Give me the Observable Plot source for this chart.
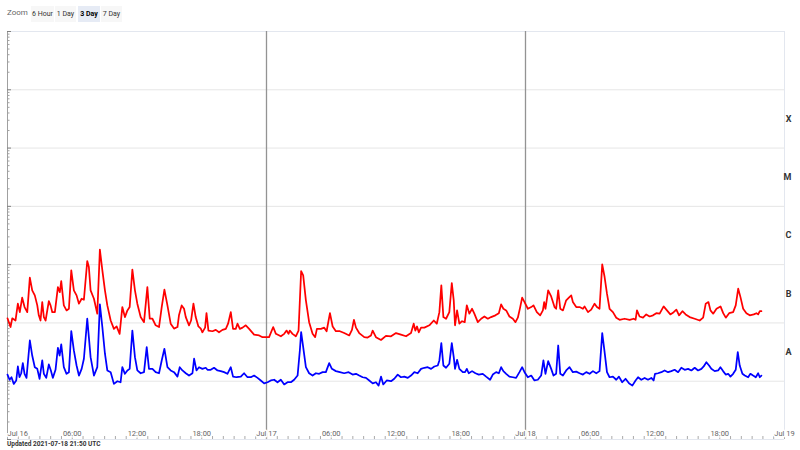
<!DOCTYPE html>
<html><head><meta charset="utf-8">
<script src="https://cdn.jsdelivr.net/npm/d3@7"></script>
<script src="https://cdn.jsdelivr.net/npm/@observablehq/plot@0.6"></script>
<style>
body{margin:0;background:#fff;font-family:Roboto,"Liberation Sans",Arial,sans-serif}
#wrap{position:relative;width:800px;height:450px;overflow:hidden}
#chart{position:absolute;left:0;top:0}
.zl{position:absolute;top:7px;left:7px;font-size:8px;line-height:12px;color:#666}
.btn{position:absolute;top:6px;height:16px;line-height:16px;font-size:7px;color:#333;background:#f7f7f7;text-align:center}
.btn.sel{background:#e6ebf5;font-weight:bold;color:#000}
#foot{position:absolute;left:7px;top:440px;font-size:6.5px;line-height:8px;font-weight:bold;color:#333}
</style></head>
<body>
<div id="wrap">
<div id="chart"></div>
<div class="zl">Zoom</div>
<div id="btns"></div>
<div id="foot"></div>
</div>
<script>
// Time in hours after 2021-07-16 00:00 UTC
const longHours = [
0.00,0.28,0.44,0.74,0.96,1.14,1.36,1.58,1.83,2.07,
2.29,2.53,2.76,2.90,3.06,3.22,3.37,3.53,3.83,3.99,
4.15,4.39,4.67,4.85,4.98,5.22,5.47,5.69,5.91,6.15,
6.40,6.62,6.87,7.08,7.39,7.54,7.70,8.01,8.32,8.56,
8.79,9.03,9.25,9.56,9.86,10.11,10.39,10.64,10.88,11.11,
11.32,11.57,11.81,12.03,12.34,12.65,12.96,13.18,13.43,13.73,
14.04,14.29,14.54,14.82,15.12,15.43,15.75,15.89,16.14,16.36,
16.52,16.82,17.01,17.23,17.44,17.69,17.91,18.06,18.31,18.44,
18.62,18.99,19.30,19.60,19.92,20.23,20.44,20.69,20.90,21.15,
21.31,21.53,21.78,22.08,22.39,22.85,23.32,23.63,23.94,24.24,
24.62,24.87,25.33,25.64,25.86,26.04,26.16,26.41,26.72,26.97,
27.21,27.40,27.65,27.95,28.27,28.51,28.67,29.04,29.35,29.57,
29.88,30.13,30.43,30.80,31.20,31.67,31.92,32.10,32.29,32.59,
33.06,33.37,33.68,33.84,34.14,34.61,35.07,35.54,36.00,36.46,
36.93,37.39,37.64,37.79,37.95,38.11,38.32,38.63,39.09,39.50,
39.78,40.02,40.20,40.39,40.64,40.94,41.17,41.35,41.47,41.66,
41.87,42.12,42.37,42.56,42.80,43.05,43.26,43.58,43.89,44.19,
44.51,44.81,45.21,45.53,45.74,45.95,46.21,46.51,46.83,47.07,
47.29,47.51,47.69,47.91,48.22,48.53,48.74,49.05,49.36,49.61,
49.73,49.85,50.10,50.38,50.69,50.84,51.03,51.22,51.47,51.77,
52.02,52.24,52.39,52.70,53.01,53.32,53.47,53.79,54.09,54.40,
54.62,54.86,55.11,55.33,55.55,55.79,56.10,56.41,56.72,57.18,
57.65,58.02,58.20,58.33,58.57,58.89,59.19,59.50,59.82,60.12,
60.43,60.80,61.05,61.42,61.73,61.98,62.23,62.54,62.84,63.21,
63.68,64.14,64.46,64.70,64.95,65.14,65.39,65.70,66.07,66.32,
66.56,66.87,67.24,67.48,67.71,67.92,68.17,68.47,68.78,69.15,
69.40,69.56,69.71,69.86
];
// Long channel (0.1-0.8 nm) flux, in units of 1e-7 W/m²
const longFlux = [
1.20,0.85,1.20,1.10,2.14,1.53,2.71,1.87,1.53,5.98,
3.62,2.97,2.00,1.35,1.10,2.28,1.26,1.10,2.37,2.00,
1.53,1.53,4.12,3.38,5.22,2.00,1.64,1.75,7.98,3.62,
2.97,2.14,2.60,2.50,11.5,9.11,3.62,2.60,1.44,18.1,
7.98,3.62,2.00,1.10,0.79,0.87,0.65,1.87,1.26,1.64,
1.87,8.20,3.62,2.14,1.26,1.03,4.12,1.18,1.18,0.91,
0.85,1.87,3.72,2.00,0.97,0.80,0.85,1.35,2.00,1.75,
1.26,0.91,1.10,2.14,1.26,0.87,0.80,0.69,0.83,1.47,
0.74,0.72,0.76,0.69,0.76,0.79,0.97,1.53,0.79,0.79,
0.97,0.79,0.83,0.91,0.79,0.63,0.61,0.57,0.57,0.57,
0.85,0.65,0.59,0.65,0.74,0.65,0.74,0.65,0.59,0.74,
7.76,6.56,2.44,1.03,0.65,0.57,0.79,0.79,0.83,0.72,
1.47,0.87,0.72,0.72,0.67,0.61,0.76,1.13,0.83,0.67,
0.57,0.56,0.61,0.74,0.57,0.51,0.60,0.59,0.67,0.63,
0.59,0.67,0.97,0.74,0.87,0.69,0.83,0.83,0.91,1.10,
0.97,1.53,4.41,1.26,1.18,1.53,4.83,2.44,0.91,1.64,
0.97,1.07,1.03,2.00,1.44,1.75,1.44,1.03,1.18,1.29,
1.18,1.26,1.35,1.47,2.08,1.75,1.64,1.29,1.18,1.03,
1.23,1.87,2.71,2.28,1.75,1.87,2.00,1.53,1.35,1.64,
2.28,1.75,3.62,2.85,1.87,1.75,3.62,1.75,1.64,2.44,
2.71,2.97,2.28,1.87,1.87,1.75,1.92,1.53,1.69,2.14,
1.87,1.75,10.1,6.13,3.18,1.75,1.53,1.23,1.13,1.18,
1.13,1.18,1.13,1.64,1.29,1.23,1.40,1.29,1.35,1.47,
1.44,1.92,1.69,1.40,1.53,1.69,1.35,1.59,1.40,1.26,
1.18,1.10,1.23,2.14,2.28,1.64,1.44,1.75,1.92,1.47,
1.23,1.47,1.53,2.00,3.87,2.77,1.75,1.47,1.35,1.40,
1.47,1.40,1.59,1.59
];
const shortHours = [
0.00,0.19,0.37,0.58,0.81,0.96,1.11,1.27,1.42,1.58,
1.76,2.07,2.29,2.53,2.76,2.97,3.22,3.37,3.59,3.83,
4.02,4.20,4.45,4.67,4.83,4.98,5.22,5.47,5.69,5.91,
6.15,6.40,6.62,6.87,7.08,7.39,7.54,7.70,8.01,8.32,
8.56,8.79,9.03,9.25,9.56,9.86,10.18,10.48,10.64,10.88,
11.11,11.32,11.57,11.81,12.03,12.34,12.65,12.90,13.11,13.43,
13.73,14.04,14.29,14.54,14.82,15.12,15.43,15.75,15.96,16.21,
16.52,16.82,17.14,17.29,17.51,17.75,18.06,18.37,18.53,18.83,
19.14,19.46,19.76,20.07,20.38,20.69,20.90,21.22,21.62,21.92,
22.24,22.55,22.85,23.17,23.47,23.78,24.10,24.40,24.71,25.02,
25.33,25.64,25.95,26.26,26.56,26.88,27.09,27.21,27.40,27.65,
27.95,28.27,28.58,28.88,29.20,29.50,29.81,30.06,30.43,30.80,
31.20,31.61,31.98,32.29,32.59,32.91,33.22,33.52,33.84,34.14,
34.39,34.61,34.82,35.14,35.54,35.84,36.16,36.46,36.77,37.09,
37.39,37.70,38.01,38.32,38.63,38.94,39.25,39.55,39.87,40.02,
40.20,40.39,40.64,40.94,41.17,41.35,41.47,41.66,41.87,42.19,
42.40,42.56,42.74,43.05,43.36,43.67,44.04,44.35,44.72,44.97,
45.28,45.53,45.74,45.95,46.21,46.51,46.83,47.13,47.44,47.69,
47.91,48.22,48.53,48.83,49.14,49.45,49.66,49.85,50.10,50.38,
50.59,50.84,51.03,51.22,51.47,51.77,52.08,52.39,52.70,53.01,
53.32,53.63,53.94,54.25,54.56,54.86,55.11,55.33,55.55,55.79,
56.10,56.41,56.66,56.96,57.27,57.59,57.90,58.20,58.43,58.73,
59.04,59.35,59.66,59.87,60.00,60.28,60.59,60.89,61.21,61.51,
61.82,62.14,62.44,62.75,63.07,63.37,63.68,63.99,64.30,64.51,
64.76,65.01,65.22,65.53,65.85,66.06,66.31,66.55,66.78,66.99,
67.24,67.48,67.67,67.85,68.10,68.32,68.63,68.84,69.09,69.34,
69.56,69.71,69.86
];
// Short channel (0.05-0.4 nm) flux, in units of 1e-8 W/m²
const shortFlux = [
1.30,1.06,1.17,0.90,1.03,1.79,1.17,1.37,2.04,1.34,
1.14,5.00,2.76,1.74,1.63,1.10,2.27,1.34,1.14,1.94,
1.53,1.14,1.57,3.75,2.76,4.27,1.74,1.34,1.43,7.22,
3.37,1.86,1.25,1.63,2.43,11.8,5.70,2.59,1.25,1.74,
20.8,8.47,2.96,1.53,1.43,0.90,1.00,0.96,1.74,1.34,
1.53,1.63,7.41,2.59,1.53,1.37,1.43,3.84,1.63,1.63,
1.43,1.37,2.27,3.60,1.74,1.53,1.43,1.20,1.74,1.53,
1.37,1.25,1.37,2.43,1.53,1.74,1.63,1.70,1.57,1.57,
1.70,1.53,1.49,1.43,1.34,1.74,1.20,1.17,1.20,1.37,
1.17,1.17,1.25,1.14,1.03,0.92,0.96,1.03,1.06,0.96,
1.06,0.88,0.96,0.96,1.06,1.25,3.37,6.94,3.84,1.74,
1.37,1.25,1.37,1.34,1.43,1.43,2.04,1.63,1.49,1.43,
1.37,1.43,1.30,1.34,1.25,1.17,1.14,1.03,0.92,0.96,
0.84,1.20,0.88,1.03,1.00,1.10,1.30,1.17,1.20,1.14,
1.25,1.43,1.37,1.63,1.70,1.74,1.63,1.79,1.86,2.27,
4.50,1.86,1.70,1.99,4.50,2.59,1.63,2.33,1.63,1.43,
1.43,1.63,1.37,1.49,1.37,1.30,1.34,1.20,1.06,1.30,
1.43,1.37,1.74,1.49,1.34,1.20,1.17,1.14,1.43,1.74,
1.43,1.17,1.25,1.03,1.06,1.25,2.27,1.34,2.21,1.63,
1.25,1.34,4.10,1.34,1.25,1.53,1.74,1.43,1.46,1.37,
1.30,1.43,1.34,1.49,1.37,1.49,6.68,3.15,1.43,1.17,
1.20,1.06,1.20,0.96,1.10,0.92,0.84,1.03,1.17,1.06,
1.14,1.06,1.14,1.03,1.34,1.37,1.43,1.53,1.43,1.49,
1.57,1.43,1.70,1.57,1.63,1.53,1.70,1.53,1.63,1.79,
2.12,1.86,1.63,1.49,1.53,1.74,1.49,1.30,1.34,1.20,
1.34,1.57,3.15,1.86,1.34,1.25,1.17,1.34,1.25,1.17,
1.37,1.17,1.25
];
const xTickHours = [0, 6, 12, 18, 24, 30, 36, 42, 48, 54, 60, 66, 72];
const xTickLabels = ["Jul 16","06:00","12:00","18:00","Jul 17","06:00","12:00","18:00","Jul 18","06:00","12:00","18:00","Jul 19"];
const dayHours = [24, 48];
const classNames = ["A", "B", "C", "M", "X"];
const classFloors = [1e-8, 1e-7, 1e-6, 1e-5, 1e-4];
const zoomButtons = ["6 Hour", "1 Day", "3 Day", "7 Day"];
const zoomSelected = "3 Day";
const updatedText = "Updated 2021-07-18 21:50 UTC";

// ---- build ----
const start = Date.UTC(2021, 6, 16);
const toDate = h => new Date(start + h * 3600e3);
const longRows = longHours.slice(0, Math.min(longHours.length, longFlux.length)).map((h, i) => ({t: toDate(h), flux: longFlux[i] * 1e-7}));
const shortRows = shortHours.slice(0, Math.min(shortHours.length, shortFlux.length)).map((h, i) => ({t: toDate(h), flux: shortFlux[i] * 1e-8}));
const decades = d3.range(-9, -1).map(e => Math.pow(10, e));
const minor = decades.slice(0, -1).flatMap(d => d3.range(2, 10).map(k => k * d));
const hourTicks = d3.range(0, 73).map(toDate);
const xTicks = xTickHours.map((h, i) => ({t: toDate(h), label: xTickLabels[i]}));
const classes = classNames.map((n, i) => ({name: n, y: classFloors[i] * Math.sqrt(10)}));

const chart = Plot.plot({
  width: 800, height: 450,
  marginTop: 31, marginBottom: 11, marginLeft: 7, marginRight: 16,
  style: {fontFamily: "Roboto, 'Liberation Sans', Arial, sans-serif", background: "transparent", overflow: "visible"},
  x: {type: "utc", domain: [toDate(0), toDate(72)]},
  y: {type: "log", domain: [1e-9, 1e-2]},
  marks: [
    Plot.ruleY(decades.slice(1, -1), {stroke: "#e6e6e6"}),
    Plot.ruleY([1e-2, 1e-9], {stroke: "#e3e7ef"}),
    Plot.ruleX([toDate(72)], {stroke: "#e3e7ef"}),
    Plot.ruleX(dayHours.map(toDate), {stroke: "#939393", strokeWidth: 1.3}),
    Plot.ruleX([toDate(0)], {stroke: "#a0a0a0"}),
    Plot.axisY({ticks: minor, tickSize: 2.5, dx: 2.5, tickFormat: () => "", label: null, stroke: "#a0a0a0"}),
    Plot.axisY({ticks: decades, tickSize: 4, dx: 4, tickFormat: () => "", label: null, stroke: "#808080"}),
    Plot.axisX({ticks: hourTicks, tickSize: 3, dy: -3, tickFormat: () => "", label: null, stroke: "#aaaaaa"}),
    Plot.line(longRows, {x: "t", y: "flux", stroke: "#ff0000", strokeWidth: 1.75}),
    Plot.line(shortRows, {x: "t", y: "flux", stroke: "#0000ff", strokeWidth: 1.75}),
    Plot.text(xTicks.slice(0, 1), {x: "t", text: "label", frameAnchor: "bottom", dy: -4, textAnchor: "start", fontSize: 7.5, fill: "#666", stroke: "white", strokeWidth: 3}),
    Plot.text(xTicks.slice(1), {x: "t", text: "label", frameAnchor: "bottom", dy: -4, fontSize: 7.5, fill: "#666", stroke: "white", strokeWidth: 3}),
    Plot.text(classes, {y: "y", text: "name", frameAnchor: "right", dx: 7, fontSize: 9, fontWeight: "bold", fill: "#333"})
  ]
});
document.getElementById("chart").appendChild(chart);

const lefts = [31, 55, 78, 101], widths = [23, 21, 22, 21];
const btns = document.getElementById("btns");
zoomButtons.forEach((b, i) => {
  const el = document.createElement("div");
  el.className = "btn" + (b === zoomSelected ? " sel" : "");
  el.style.left = lefts[i] + "px";
  el.style.width = widths[i] + "px";
  el.textContent = b;
  btns.appendChild(el);
});
document.getElementById("foot").textContent = updatedText;
</script>
</body></html>
